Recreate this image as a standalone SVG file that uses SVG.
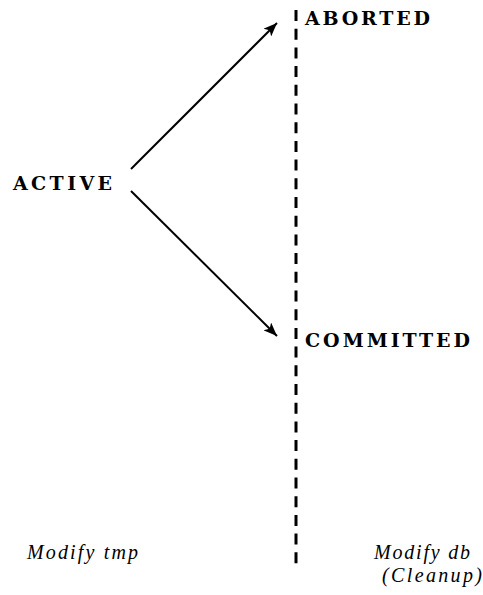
<svg xmlns="http://www.w3.org/2000/svg" width="483" height="595" viewBox="0 0 483 595">
  <style>
    .state { font-family: "DejaVu Serif", "Liberation Serif", serif; font-weight: bold; font-size: 19px; fill: #000; }
    .note { font-family: "Liberation Serif", "Times New Roman", serif; font-style: italic; font-size: 20px; fill: #000; }
    .edge { stroke: #000; stroke-width: 2; fill: none; }
    .divider { stroke: #000; stroke-width: 3; stroke-dasharray: 11 7.7; fill: none; }
  </style>
  <defs>
    <marker id="arrow" viewBox="0 0 10 8" refX="10" refY="4" markerWidth="8.5" markerHeight="5.5" markerUnits="strokeWidth" orient="auto">
      <path d="M0,0 L10,4 L0,8 L2.5,4 Z" fill="#000"/>
    </marker>
  </defs>
  <rect width="483" height="595" fill="#fff"/>

  <!-- boundary between tmp and db phases -->
  <line class="divider" x1="296" y1="10" x2="296" y2="564"/>

  <g id="connectors">
    <line class="edge" x1="131" y1="169" x2="277" y2="23" marker-end="url(#arrow)"/>
    <line class="edge" x1="131" y1="191" x2="277" y2="336" marker-end="url(#arrow)"/>
  </g>

  <g id="active">
    <text class="state" x="13" y="190" textLength="99" lengthAdjust="spacing">ACTIVE</text>
  </g>
  <g id="aborted">
    <text class="state" x="305" y="25" textLength="125" lengthAdjust="spacing">ABORTED</text>
  </g>
  <g id="committed">
    <text class="state" x="305" y="347" textLength="165" lengthAdjust="spacing">COMMITTED</text>
  </g>

  <g id="label-tmp">
    <text class="note" x="27" y="559" textLength="111" lengthAdjust="spacing">Modify tmp</text>
  </g>
  <g id="label-db">
    <text class="note" x="374" y="559" textLength="96" lengthAdjust="spacing">Modify db</text>
    <text class="note" x="382" y="582" textLength="100" lengthAdjust="spacing">(Cleanup)</text>
  </g>
</svg>
